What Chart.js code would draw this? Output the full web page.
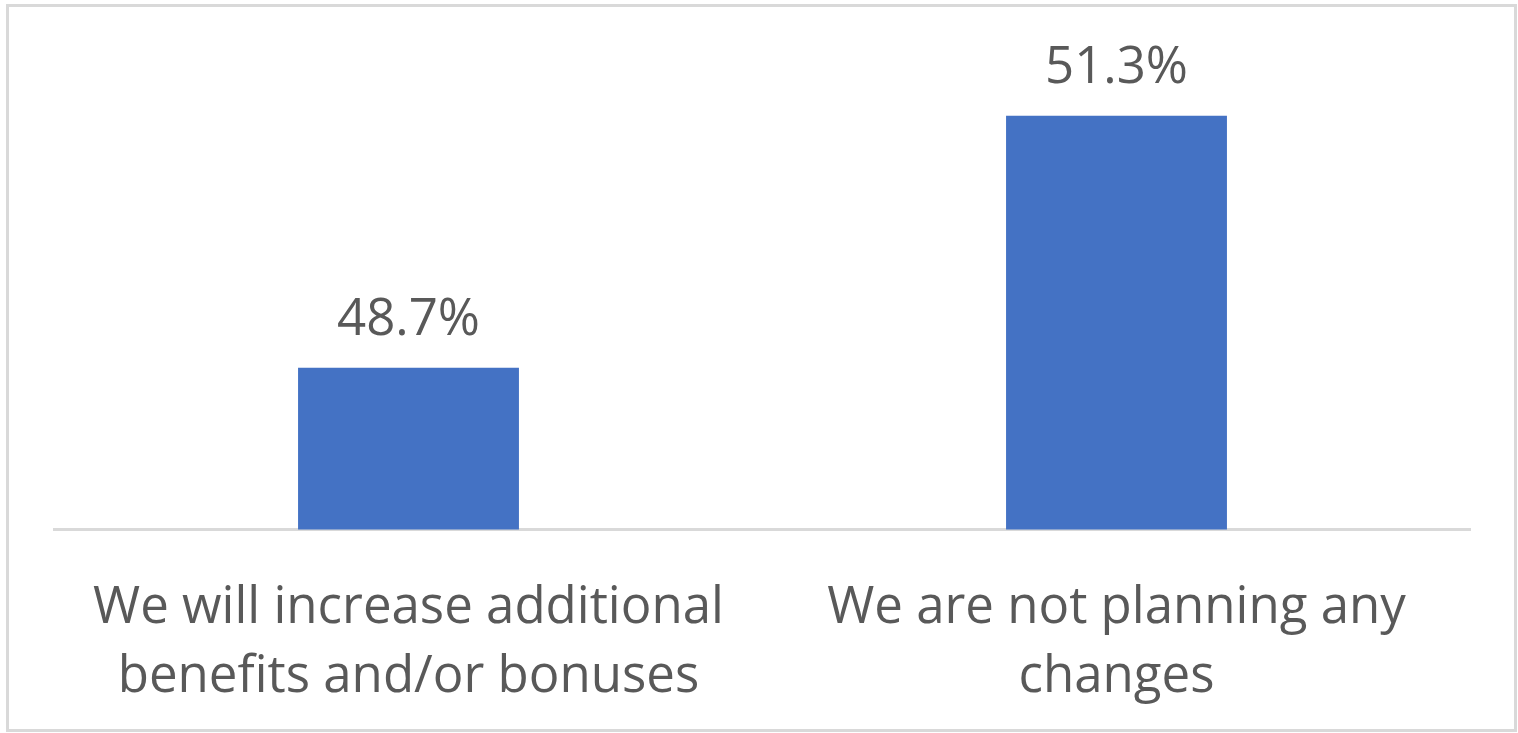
<!DOCTYPE html>
<html>
<head>
<meta charset="utf-8">
<script src="https://cdn.jsdelivr.net/npm/chart.js@4/dist/chart.umd.min.js"></script>
<style>
  html, body { margin: 0; padding: 0; background: #ffffff; overflow: hidden; }
  #wrap { position: relative; width: 1518px; height: 733px; }
  #c { position: absolute; left: 0; top: 0; }
  #frame { position: absolute; left: 6px; top: 4px; width: 1511px; height: 728px; box-sizing: border-box; border: 3px solid #d9d9d9; pointer-events: none; }
</style>
</head>
<body>
<div id="wrap">
  <canvas id="c" width="1518" height="733"></canvas>
  <div id="frame"></div>
</div>
<script>
const categories = [
  ["We will increase additional", "benefits and/or bonuses"],
  ["We are not planning any", "changes"]
];
const values = [48.7, 51.3];
const yMin = 47.03;
const yMax = 52;

const FONT = "'Open Sans', 'Noto Sans', sans-serif";
const TEXT_COLOR = '#595959';

const valueLabels = {
  id: 'valueLabels',
  afterDatasetsDraw(chart) {
    const ctx = chart.ctx;
    const meta = chart.getDatasetMeta(0);
    ctx.save();
    ctx.font = '51px ' + FONT;
    ctx.fillStyle = TEXT_COLOR;
    ctx.textAlign = 'center';
    ctx.textBaseline = 'alphabetic';
    meta.data.forEach((bar, i) => {
      const v = chart.data.datasets[0].data[i];
      ctx.fillText(v.toFixed(1) + '%', bar.x, bar.y - 33);
    });
    ctx.restore();
  }
};

new Chart(document.getElementById('c'), {
  type: 'bar',
  data: {
    labels: categories,
    datasets: [{
      data: values,
      backgroundColor: '#4472C4',
      borderWidth: 0,
      barPercentage: 0.312,
      categoryPercentage: 1.0
    }]
  },
  options: {
    responsive: false,
    animation: false,
    devicePixelRatio: 1,
    layout: { padding: { left: 54.5, right: 47.5, top: 47.8, bottom: 0 } },
    plugins: { legend: { display: false }, tooltip: { enabled: false } },
    scales: {
      x: {
        grid: { display: false, drawTicks: false },
        border: { display: true, color: '#d9d9d9', width: 3 },
        ticks: {
          color: TEXT_COLOR,
          font: { family: FONT, size: 51, lineHeight: 1.34 },
          padding: 45,
          maxRotation: 0,
          autoSkip: false
        },
        afterFit(scale) { scale.height = 203.5; }
      },
      y: {
        display: false,
        min: yMin,
        max: yMax
      }
    }
  },
  plugins: [valueLabels]
});
</script>
</body>
</html>
